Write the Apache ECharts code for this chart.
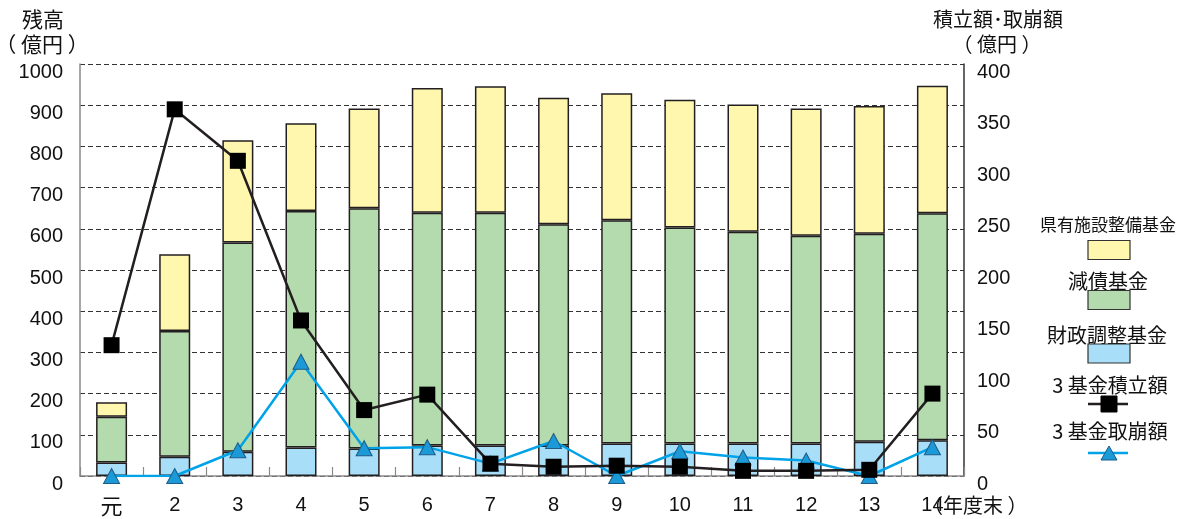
<!DOCTYPE html>
<html>
<head>
<meta charset="utf-8">
<script src="https://cdn.jsdelivr.net/npm/echarts@6/dist/echarts.min.js"></script>
<style>
  html, body { margin: 0; padding: 0; background: #ffffff; }
  #chart { width: 1182px; height: 519px; }
</style>
</head>
<body>
<div id="chart"></div>
<script>
// 年度末（元年度〜14年度）
const years = ['元', '2', '3', '4', '5', '6', '7', '8', '9', '10', '11', '12', '13', '14'];

// 基金残高（億円）: 積み上げ棒
const zaiseiChosei = [33, 47, 59, 69, 67, 74, 74, 74, 79, 79, 79, 79, 83, 87];        // 財政調整基金
const gensai = [111, 305, 508, 574, 583, 565, 565, 537, 542, 524, 514, 504, 505, 551];  // 減債基金
const kenyuShisetsu = [35, 186, 248, 213, 242, 303, 307, 307, 308, 310, 309, 309, 310, 309]; // 県有施設整備基金

// 3基金の積立額・取崩額（億円）: 右軸の折れ線
const tsumitate = [127, 356, 306, 151, 64, 79, 12, 9, 10, 9, 5, 5, 6, 80];
const torikuzushi = [0, 0, 25, 111, 27, 28, 12, 34, 0, 24, 18, 15, 0, 28];

// 軸の範囲
const leftAxis = { min: 0, max: 1000, interval: 100 };
const rightAxis = { min: 0, max: 400, interval: 50 };

const FONT = "'Liberation Sans', Arial, 'Noto Sans CJK JP', sans-serif";
const JP_FONT = "'Noto Sans CJK JP', 'Liberation Sans', sans-serif";
const INK = '#231F20';
const YELLOW = '#FFF7AD';
const GREEN = '#B4DBAD';
const BLUE = '#A9DEF9';
const LINE_BLUE = '#00A3E8';

const chart = echarts.init(document.getElementById('chart'), null, { renderer: 'canvas' });

const barStyle = (color) => ({ color: color, borderColor: INK, borderWidth: 1.5 });

function text(str, x, y, size, align) {
  return {
    type: 'text',
    style: { text: str, x: x, y: y, align: align || 'center', verticalAlign: 'middle',
             textAlign: align || 'center', textVerticalAlign: 'middle',
             fontSize: size, fontFamily: JP_FONT, fill: '#111' }
  };
}

// 凡例（文字の下に記号を置く縦並び）
const legendX = 1109;
function legendBox(color, y) {
  return {
    type: 'rect',
    shape: { x: legendX - 21, y: y, width: 42, height: 19 },
    style: { fill: color, stroke: '#333', lineWidth: 1.2 }
  };
}

const graphic = [
  // 左軸タイトル
  text('残高', 43, 19, 21),
  text('（ 億円 ）', 42, 44, 21),
  // 右軸タイトル
  text('積立額･取崩額', 998, 19, 20),
  text('（ 億円 ）', 997, 44, 20),
  // 横軸の単位
  text('（年度末 ）', 923, 505, 20, 'left'),

  // 凡例
  text('県有施設整備基金', legendX - 1, 225, 17),
  legendBox(YELLOW, 240.5),
  text('減債基金', legendX - 1, 281.5, 20),
  legendBox(GREEN, 290.5),
  text('財政調整基金', legendX - 2, 335, 20),
  legendBox(BLUE, 344),
  text('3 基金積立額', legendX + 1, 385, 20),
  { type: 'line', shape: { x1: legendX - 21, y1: 404, x2: legendX + 19, y2: 404 }, style: { stroke: INK, lineWidth: 2.5 } },
  { type: 'rect', shape: { x: legendX - 8, y: 396, width: 16, height: 16 }, style: { fill: '#000', stroke: '#000' } },
  text('3 基金取崩額', legendX + 1, 431.5, 20),
  { type: 'line', shape: { x1: legendX - 21, y1: 453, x2: legendX + 19, y2: 453 }, style: { stroke: LINE_BLUE, lineWidth: 2.5 } },
  { type: 'polygon', shape: { points: [[legendX - 8, 460], [legendX + 8, 460], [legendX, 446]] }, style: { fill: '#1C9AD8', stroke: '#1D5C86', lineWidth: 1 } }
];

const valueLabel = {
  fontSize: 20, color: '#111', fontFamily: FONT,
  verticalAlign: 'top', lineHeight: 16,
  formatter: (v) => String(v)
};

const option = {
  animation: false,
  backgroundColor: '#ffffff',
  grid: { left: 80, right: 218, top: 64, bottom: 43, containLabel: false },
  textStyle: { fontFamily: FONT },
  xAxis: {
    type: 'category',
    data: years,
    boundaryGap: true,
    axisLine: { show: true, lineStyle: { color: '#8a8a8a', width: 1.5 } },
    axisTick: { show: true, inside: true, length: 9, interval: 0, lineStyle: { color: '#8a8a8a', width: 1.2 } },
    axisLabel: {
      interval: 0,
      fontSize: 20, color: '#111', margin: 19, fontFamily: FONT,
      formatter: (v) => (v === '元' ? '{jp|元}' : v),
      rich: { jp: { fontSize: 22, fontFamily: JP_FONT, color: '#111' } }
    }
  },
  yAxis: [
    {
      type: 'value',
      position: 'left',
      min: leftAxis.min, max: leftAxis.max, interval: leftAxis.interval,
      axisLine: { show: true, lineStyle: { color: '#8a8a8a', width: 1.5 } },
      axisTick: { show: false },
      splitLine: { show: true, lineStyle: { color: '#333', width: 1, type: [5, 3] } },
      axisLabel: Object.assign({ margin: 17 }, valueLabel)
    },
    {
      type: 'value',
      position: 'right',
      min: rightAxis.min, max: rightAxis.max, interval: rightAxis.interval,
      axisLine: { show: true, lineStyle: { color: '#333', width: 1.5 } },
      axisTick: { show: false },
      splitLine: { show: false },
      axisLabel: Object.assign({ margin: 13 }, valueLabel)
    }
  ],
  graphic: graphic,
  series: [
    { name: '財政調整基金', type: 'bar', stack: 'zandaka', barWidth: 31, data: zaiseiChosei, itemStyle: barStyle(BLUE), z: 2 },
    { name: '減債基金', type: 'bar', stack: 'zandaka', barWidth: 31, data: gensai, itemStyle: barStyle(GREEN), z: 2 },
    { name: '県有施設整備基金', type: 'bar', stack: 'zandaka', barWidth: 31, data: kenyuShisetsu, itemStyle: barStyle(YELLOW), z: 2 },
    {
      name: '3 基金取崩額', type: 'line', yAxisIndex: 1, data: torikuzushi, z: 5,
      symbol: 'triangle', symbolSize: [16, 15],
      lineStyle: { color: LINE_BLUE, width: 2.5 },
      itemStyle: { color: '#1C9AD8', borderColor: '#1D5C86', borderWidth: 1 }
    },
    {
      name: '3 基金積立額', type: 'line', yAxisIndex: 1, data: tsumitate, z: 6,
      symbol: 'rect', symbolSize: 16,
      lineStyle: { color: INK, width: 2.5 },
      itemStyle: { color: '#000', borderColor: '#000', borderWidth: 0 }
    }
  ]
};

chart.setOption(option);
</script>
</body>
</html>
